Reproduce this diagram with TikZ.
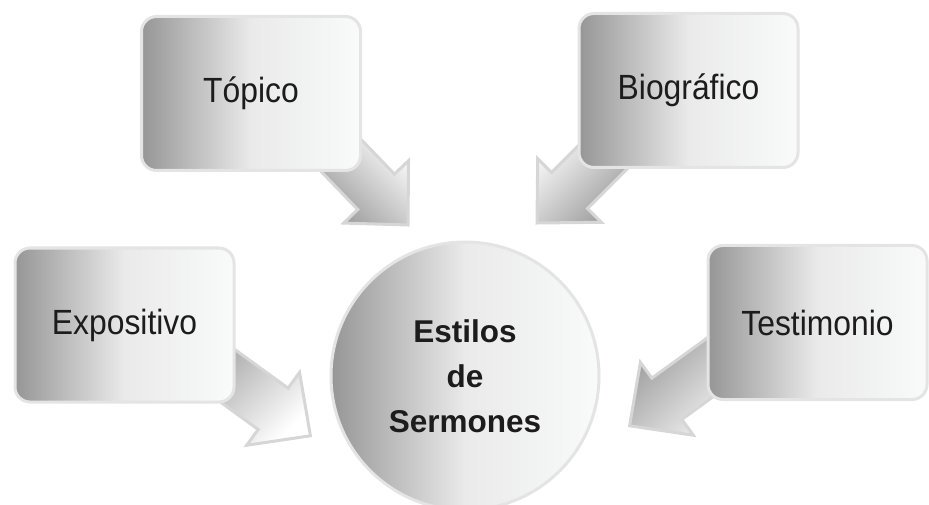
\documentclass[tikz,border=0pt]{standalone}
\usepackage{fontspec}
\setmainfont{Liberation Sans}
\newfontfamily\narrowsans[FakeStretch=0.91]{Liberation Sans}
\usepackage{tikz}
\definecolor{boxdark}{RGB}{150, 150, 150}
\definecolor{boxmid}{RGB}{234, 234, 234}
\definecolor{boxlight}{RGB}{249, 250, 250}
\definecolor{rim}{RGB}{228, 228, 228}
\definecolor{arrowrim}{RGB}{214, 214, 214}
\definecolor{arrowdark}{RGB}{150, 150, 150}
\definecolor{ink}{RGB}{28, 28, 28}
\usetikzlibrary{positioning}
\usetikzlibrary{calc}
\usetikzlibrary{backgrounds}
\pgfdeclarehorizontalshading{sermonshade}{100bp}{color(0bp)=(boxdark); color(25bp)=(boxdark); color(50bp)=(boxmid); color(75bp)=(boxlight); color(100bp)=(boxlight)}
\tikzset{
	stylebox/.style={rectangle, rounded corners=15pt, minimum width=219pt, minimum height=154pt, inner sep=0pt, shade, shading=sermonshade, draw=rim, line width=3pt, text=ink, font=\narrowsans\fontsize{35}{40}\selectfont},
	hub/.style={circle, minimum size=268pt, inner sep=0pt, shade, shading=sermonshade, draw=rim, line width=3pt, align=center, text=ink, font=\fontsize{31.5}{45}\selectfont\bfseries},
	blockarrow/.style={draw=arrowrim, line width=3pt, line join=miter, top color=arrowdark, bottom color=white}
}
\newcommand{\sermonarrow}[3]{%
	\draw [blockarrow, shading angle=#3] (#1)
		-- ($(#1)!46pt!(#2)!45pt!90:(#2)$)
		-- ($(#1)!46pt!(#2)!25.5pt!90:(#2)$)
		-- ($(#1)!1.6!(#2)!25.5pt!-90:(#2)$)
		-- ($(#1)!1.6!(#2)!25.5pt!90:(#2)$)
		-- ($(#1)!46pt!(#2)!25.5pt!-90:(#2)$)
		-- ($(#1)!46pt!(#2)!45pt!-90:(#2)$)
		-- cycle;}

\begin{document}
\begin{tikzpicture}
		[x=1pt, y=1pt]
		\useasboundingbox (0, 0) rectangle (929, -505);
		\node (centro) [hub] at (465, -376) {Estilos\\de\\Sermones};
		\node (topico) [stylebox] at (251, -93.5) {Tópico};
		\node (biografico) [stylebox] at (688.5, -90.5) {Biográfico};
		\node (expositivo) [stylebox] at (124.5, -325) {Expositivo};
		\node (testimonio) [stylebox] at (817.5, -322.5) {Testimonio};
		\coordinate (tipT) at (408, -225);
		\coordinate (tipB) at (537, -223);
		\coordinate (tipE) at (310.4, -435.8);
		\coordinate (tipS) at (629.6, -425.8);
		\coordinate (aimT) at ([xshift=-5pt]topico.south east);
		\coordinate (aimB) at ([xshift=13.5pt]biografico.south west);
		\coordinate (aimE) at ([yshift=22pt]expositivo.south east);
		\coordinate (aimS) at ([yshift=31pt]testimonio.south west);
		\begin{scope}[on background layer]
			\sermonarrow{tipT}{aimT}{135}
			\sermonarrow{tipB}{aimB}{225}
			\sermonarrow{tipE}{aimE}{45}
			\sermonarrow{tipS}{aimS}{45}
		\end{scope}
\end{tikzpicture}
\end{document}
